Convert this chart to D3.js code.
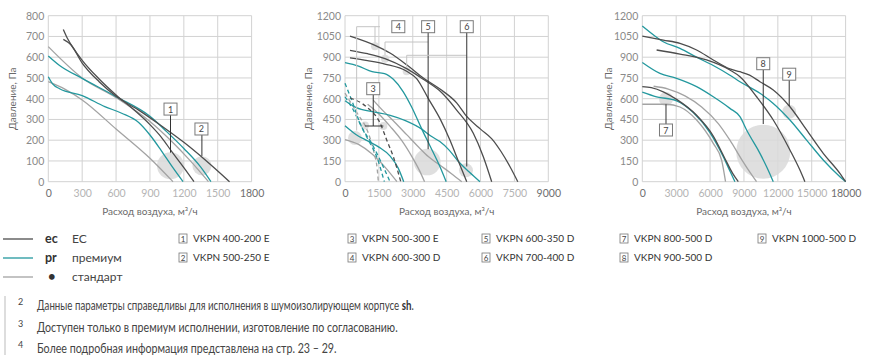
<!DOCTYPE html>
<html><head><meta charset="utf-8">
<script src="https://cdn.jsdelivr.net/npm/d3@7"></script>
<style>
body{margin:0;background:#fff}
svg{display:block}
text{font-family:Lato,"Open Sans",sans-serif}
</style>
</head><body>
<svg id="c" width="871" height="356"></svg>
<script>
// ---------- ticks ----------
const c1XTicks=[0,300,600,900,1200,1500,1800];
const c1YTicks=[0,100,200,300,400,500,600,700,800];
const c2XTicks=[0,1500,3000,4500,6000,7500,9000];
const c2YTicks=[0,150,300,450,600,750,900,1050,1200];
const c3XTicks=[0,3000,6000,9000,12000,15000,18000];
const c3YTicks=[0,150,300,450,600,750,900,1050,1200];

// ---------- chart 1 series ([flow, pressure]) ----------
const c1_ec_1=[[133,734],[170,690],[220,645],[300,585],[450,495],[600,418],[750,350],[900,275],[1000,215],[1100,140],[1200,68],[1290,0]];
const c1_ec_2=[[133,686],[200,660],[300,572],[450,482],[600,412],[800,345],[1000,270],[1200,190],[1400,100],[1605,0]];
const c1_pr_2=[[0,606],[100,560],[300,498],[600,410],[900,315],[1050,240],[1200,160],[1350,70],[1440,0]];
const c1_pr_1=[[0,506],[40,470],[100,448],[300,415],[500,362],[650,330],[800,285],[900,225],[1000,150],[1100,70],[1193,0]];
const c1_st_2=[[0,651],[300,500],[600,405],[900,290],[1100,190],[1250,105],[1418,0]];
const c1_st_1=[[0,482],[150,445],[300,394],[600,254],[900,113],[1104,0]];

// ---------- chart 2 series ----------
const c2_ec_a=[[221,1053],[1328,986],[1992,930],[2730,845],[3467,750],[4205,670],[4943,570],[5400,470],[6000,380],[6500,310],[6900,220],[7300,110],[7650,0]];
const c2_ec_b=[[221,950],[1000,925],[1771,890],[2730,817],[3467,740],[4205,655],[4943,518],[5680,350],[6123,181],[6494,0]];
const c2_ec_c=[[221,895],[1000,875],[1771,850],[2730,798],[3172,745],[3689,601],[4205,456],[4648,300],[5017,150],[5390,0]];
const c2_pr_a=[[0,860],[600,835],[1200,795],[1750,782],[2140,740],[2580,650],[2950,540],[3400,380],[3760,260],[4200,110],[4480,0]];
const c2_pr_b=[[0,585],[500,535],[1250,505],[2000,480],[2700,440],[3400,380],[3800,330],[4200,290],[4600,230],[5000,150],[5500,70],[5975,0]];
const c2_pr_c=[[0,405],[500,340],[1000,295],[1500,250],[2000,185],[2350,100],[2600,0]];
const c2_st_a=[[1250,590],[1700,510],[2200,430],[2730,340],[3200,260],[3700,180],[4200,120],[4700,60],[5170,0]];
const c2_st_b=[[1000,560],[1500,490],[2000,400],[2500,300],[3000,170],[3300,80],[3520,0]];
const c2_st_c=[[0,305],[600,270],[1200,200],[1800,100],[2300,0]];
const c2_ec_3=[[221,605],[960,540],[1550,425],[1850,300],[2140,180],[2470,0]];
const c2_pr_3a=[[0,711],[295,590],[664,422],[1033,301],[1402,181],[1741,0]];
const c2_pr_3b=[[0,614],[369,518],[811,373],[1180,277],[1623,133],[1992,0]];
const c2_st_3=[[0,640],[300,560],[600,480],[885,407],[1100,320],[1300,200],[1420,100],[1475,0]];

// ---------- chart 3 series ----------
const c3_ec_a=[[0,1053],[1858,1024],[3333,1000],[4808,952],[6283,880],[7758,815],[8646,795],[9500,770],[10416,723],[11596,663],[13071,542],[14546,374],[16021,205],[17496,60],[18000,0]];
const c3_pr_a=[[0,1125],[1000,1060],[1858,1012],[3333,964],[4808,900],[6283,840],[7758,770],[8646,723],[10416,639],[11596,566],[13071,446],[14546,301],[16021,157],[17496,36],[18000,0]];
const c3_ec_b=[[1268,952],[3333,923],[5693,880],[7758,807],[8646,759],[10121,614],[11596,446],[13071,229],[13956,84],[14398,0]];
const c3_pr_b=[[0,862],[1563,783],[3038,747],[4808,687],[6283,614],[7758,530],[8646,470],[9236,374],[9531,330],[10416,205],[11006,108],[11596,0]];
const c3_ec_c=[[0,688],[800,680],[1858,650],[3038,595],[4808,480],[6283,330],[7300,170],[8000,60],[8500,0]];
const c3_st_a=[[1000,690],[2300,670],[3779,620],[5254,540],[6730,420],[7758,300],[8800,160],[9600,60],[10118,0]];
const c3_pr_c=[[0,648],[1268,614],[3038,585],[4513,500],[5988,355],[7168,181],[7800,70],[8200,0]];
const c3_st_b=[[0,560],[2153,560],[3333,540],[4808,446],[6283,277],[7020,157],[7370,0]];

// ---------- annotations (data units) ----------
const c1Circles=[[1082,77,13.5],[1360,77,9.5]];
const c2Circles=[[443,316,7],[1328,979,4],[1771,889,4],[2731,798,4],[885,407,4],[1697,403,4],[3643,142,13.3],[5356,82,7]];
const c3Circles=[[2097,598,7],[10708,217,27],[13008,506,7]];

const legendRows=[["ec","EC","#4d4d4d"],["pr","премиум","#23989e"],["•","стандарт","#a3a3a3"]];
const legendModels=[["1","VKPN 400-200 E"],["2","VKPN 500-250 E"],["3","VKPN 500-300 E"],["4","VKPN 600-300 D"],["5","VKPN 600-350 D"],["6","VKPN 700-400 D"],["7","VKPN 800-500 D"],["8","VKPN 900-500 D"],["9","VKPN 1000-500 D"]];
const footnotes=[["2","Данные параметры справедливы для исполнения в шумоизолирующем корпусе ","sh",".",377],["3","Доступен только в премиум исполнении, изготовление по согласованию.","","",361],["4","Более подробная информация представлена на стр. 23 – 29.","","",300]];

const DARK="#4d4d4d", TEAL="#23989e", GRAY="#a3a3a3";
const svg=d3.select("#c");

const pTop=15.7, pBottom=181.7, W=203.3;
const panels=[
 {x0:48.3,xMax:1800,yMax:800,xt:c1XTicks,yt:c1YTicks,ylabX:12,
  series:[[c1_st_1,GRAY],[c1_st_2,GRAY],[c1_pr_1,TEAL],[c1_pr_2,TEAL],[c1_ec_1,DARK],[c1_ec_2,DARK]],
  circles:c1Circles},
 {x0:345,xMax:9000,yMax:1200,xt:c2XTicks,yt:c2YTicks,ylabX:308.5,
  series:[[c2_st_a,GRAY],[c2_st_b,GRAY],[c2_st_c,GRAY],[c2_st_3,GRAY,1],[c2_pr_a,TEAL],[c2_pr_b,TEAL],[c2_pr_c,TEAL],[c2_pr_3a,TEAL,1],[c2_pr_3b,TEAL,1],[c2_ec_3,DARK,1],[c2_ec_a,DARK],[c2_ec_b,DARK],[c2_ec_c,DARK]],
  circles:c2Circles},
 {x0:642.3,xMax:18000,yMax:1200,xt:c3XTicks,yt:c3YTicks,ylabX:608.5,
  series:[[c3_st_a,GRAY],[c3_st_b,GRAY],[c3_pr_a,TEAL],[c3_pr_b,TEAL],[c3_pr_c,TEAL],[c3_ec_a,DARK],[c3_ec_b,DARK],[c3_ec_c,DARK]],
  circles:c3Circles}
];

function box(g,cx,cy,label){
  g.append("rect").attr("x",cx-6.5).attr("y",cy-6).attr("width",13).attr("height",12)
   .attr("fill","#fff").attr("stroke","#7a7a7a").attr("stroke-width",1);
  g.append("text").attr("x",cx).attr("y",cy+3.5).attr("text-anchor","middle")
   .attr("font-size",9).attr("fill","#444").text(label);
}

const fmt=d3.format("d");
panels.forEach((p,i)=>{
  const x=d3.scaleLinear().domain([0,p.xMax]).range([p.x0,p.x0+W]);
  const y=d3.scaleLinear().domain([0,p.yMax]).range([pBottom,pTop]);
  p.x=x;p.y=y;
  const g=svg.append("g");
  g.selectAll(".vg").data(p.xt).join("line").attr("x1",d=>x(d)).attr("x2",d=>x(d)).attr("y1",pTop).attr("y2",pBottom)
    .attr("stroke","#d2d2d2").attr("stroke-width",1);
  g.selectAll(".hg").data(p.yt).join("line").attr("x1",p.x0).attr("x2",p.x0+W).attr("y1",d=>y(d)).attr("y2",d=>y(d))
    .attr("stroke","#d2d2d2").attr("stroke-width",1);
  const ax=g.append("g").attr("transform",`translate(0,${pBottom})`)
    .call(d3.axisBottom(x).tickValues(p.xt).tickFormat(fmt).tickSize(0).tickPadding(8));
  ax.select(".domain").remove();
  ax.selectAll("text").attr("font-size",10.5).attr("font-family","Lato,sans-serif")
    .attr("fill",(d,j)=> (j===0||j===p.xt.length-1)?"#6e6e6e":"#b4b4b4");
  const ay=g.append("g").attr("transform",`translate(${p.x0},0)`)
    .call(d3.axisLeft(y).tickValues(p.yt).tickFormat(fmt).tickSize(0).tickPadding(4));
  ay.select(".domain").remove();
  ay.selectAll("text").attr("font-size",10.5).attr("font-family","Lato,sans-serif").attr("fill","#8a8a8a");
  g.append("text").attr("x",p.x0+W/2).attr("y",215).attr("text-anchor","middle").attr("font-size",10)
    .attr("fill","#6a6a6a").text("Расход воздуха, м³/ч");
  g.append("text").attr("transform",`translate(${p.ylabX+3.5},${(pTop+pBottom)/2}) rotate(-90)`).attr("text-anchor","middle")
    .attr("font-size",10).attr("fill","#6a6a6a").text("Давление, Па");
  p.g=g;
});

panels.forEach(p=>{
  p.g.selectAll(".ci").data(p.circles).join("circle").attr("cx",d=>p.x(d[0])).attr("cy",d=>p.y(d[1])).attr("r",d=>d[2])
    .attr("fill","#d9d9d9").attr("opacity",0.85);
});

panels.forEach(p=>{
  const line=d3.line().x(d=>p.x(d[0])).y(d=>p.y(d[1])).curve(d3.curveMonotoneX);
  p.series.forEach(s=>{
    p.g.append("path").attr("d",line(s[0])).attr("fill","none").attr("stroke",s[1]).attr("stroke-width",1.3)
      .attr("stroke-dasharray",s[2]?"4,3":null);
  });
});

(function(){
  const L=(g,x1,y1,x2,y2,c,w)=>g.append("line").attr("x1",x1).attr("y1",y1).attr("x2",x2).attr("y2",y2)
     .attr("stroke",c).attr("stroke-width",w);
  const p1=panels[0], g1=p1.g;
  L(g1,p1.x(1082),p1.y(330),p1.x(1082),p1.y(140),"#333",1);
  box(g1,p1.x(1082),p1.y(350),"1");
  L(g1,p1.x(1360),p1.y(240),p1.x(1360),p1.y(124),"#333",1);
  box(g1,p1.x(1356),p1.y(254),"2");

  const p2=panels[1], g2=p2.g, lg="#c4c4c4";
  L(g2,p2.x(1550),26.7,p2.x(516),26.7,lg,1);
  L(g2,p2.x(516),26.7,p2.x(516),p2.y(370),lg,1);
  L(g2,p2.x(1328),26.7,p2.x(1328),p2.y(1005),lg,1);
  L(g2,p2.x(1771),42,p2.x(3680),42,lg,1);
  L(g2,p2.x(1771),42,p2.x(1771),p2.y(915),lg,1);
  L(g2,p2.x(3680),32,p2.x(3680),p2.y(235),"#333",1);
  L(g2,p2.x(2731),55.3,p2.x(5390),55.3,lg,1);
  L(g2,p2.x(2731),55.3,p2.x(2731),p2.y(825),lg,1);
  L(g2,p2.x(5390),32,p2.x(5390),p2.y(110),"#333",1);
  L(g2,p2.x(1250),94.3,p2.x(1250),126,"#333",1);
  L(g2,p2.x(885),126,p2.x(1697),126,"#333",1);
  box(g2,p2.x(1250),88.7,"3");
  box(g2,p2.x(2360),26.7,"4");
  box(g2,p2.x(3680),26.7,"5");
  box(g2,p2.x(5390),26.7,"6");

  const p3=panels[2], g3=p3.g;
  L(g3,p3.x(2097),p3.y(560),p3.x(2097),124,"#333",1);
  box(g3,p3.x(2097),130,"7");
  L(g3,p3.x(10708),70,p3.x(10708),124,"#333",1);
  box(g3,p3.x(10708),63.7,"8");
  L(g3,p3.x(13008),80,p3.x(13008),106,"#333",1);
  box(g3,p3.x(13008),74.2,"9");
})();

const lgd=svg.append("g");
legendRows.forEach((r,i)=>{
  const yy=239+i*19;
  lgd.append("line").attr("x1",3).attr("x2",33).attr("y1",yy).attr("y2",yy).attr("stroke",r[2]).attr("stroke-width",1.3);
  lgd.append("text").attr("x",i==2?48:45).attr("y",yy+4).attr("font-size",i==2?13:12.5).attr("font-weight","bold").attr("fill","#333").text(r[0]);
  lgd.append("text").attr("x",72).attr("y",yy+4).attr("font-size",12).attr("fill","#444").text(r[1]);
});
const colX=[179,348,482,620,758];
legendModels.forEach((m,i)=>{
  const col=Math.floor(i/2), row=i%2;
  const xx=colX[col], yy=238.5+row*19;
  lgd.append("rect").attr("x",xx).attr("y",yy-4.5).attr("width",8).attr("height",9).attr("fill","#fff").attr("stroke","#777").attr("stroke-width",0.8);
  lgd.append("text").attr("x",xx+4).attr("y",yy+3).attr("text-anchor","middle").attr("font-size",8).attr("fill","#444").text(m[0]);
  lgd.append("text").attr("x",xx+14).attr("y",yy+3.5).attr("font-size",10).attr("fill","#333").text(m[1]);
});

svg.append("line").attr("x1",5).attr("x2",5).attr("y1",296).attr("y2",355).attr("stroke","#bbb").attr("stroke-width",1);
footnotes.forEach((f,i)=>{
  const yy=310+i*21.5;
  svg.append("text").attr("x",18).attr("y",yy-5).attr("font-size",9).attr("fill","#444").text(f[0]);
  const g=svg.append("g");
  const t=g.append("text").attr("x",0).attr("y",0).attr("font-size",13.5).attr("fill","#444");
  t.append("tspan").text(f[1]);
  if(f[2]) t.append("tspan").attr("font-weight","bold").attr("fill","#333").text(f[2]);
  if(f[3]) t.append("tspan").text(f[3]);
  const w=t.node().getComputedTextLength();
  g.attr("transform",`translate(37,${yy}) scale(${f[4]/w},1)`);
});
</script>
</body></html>
